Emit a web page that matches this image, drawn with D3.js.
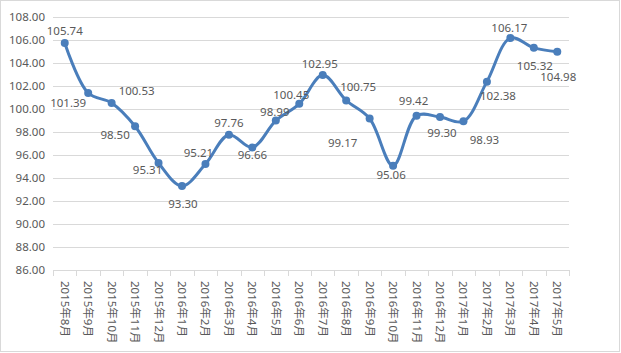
<!DOCTYPE html>
<html>
<head>
<meta charset="utf-8">
<script src="https://cdn.jsdelivr.net/npm/d3@7"></script>
<style>
body { margin: 0; background: #fff; }
text { font-family: "Noto Sans", "Noto Sans CJK SC", sans-serif; fill: #595959; }
</style>
</head>
<body>
<div id="chart"></div>
<script>
const months = ['2015年8月','2015年9月','2015年10月','2015年11月','2015年12月','2016年1月','2016年2月','2016年3月','2016年4月','2016年5月','2016年6月','2016年7月','2016年8月','2016年9月','2016年10月','2016年11月','2016年12月','2017年1月','2017年2月','2017年3月','2017年4月','2017年5月'];
const values = [105.74,101.39,100.53,98.50,95.31,93.30,95.21,97.76,96.66,98.99,100.45,102.95,100.75,99.17,95.06,99.42,99.30,98.93,102.38,106.17,105.32,104.98];
const yTicks = [86,88,90,92,94,96,98,100,102,104,106,108];
// label placement relative to its point (px)
const labelOffsets = [[0,-12],[-20,10],[25,-12],[-20,9],[-11,7],[1,18],[-7,-11],[0,-12],[0,8],[-1,-9],[-8,-9],[-3,-11],[12,-13],[-27,24],[-2,9],[-3,-15],[2,16],[21,19],[11,14],[-1,-10],[1,18],[1,25]];

const W = 621, H = 353;
const margin = {top: 17, right: 52, bottom: 83, left: 53};
const width = W - margin.left - margin.right,
    height = H - margin.top - margin.bottom;

const root = d3.select('#chart').append('svg')
    .attr('width', W)
    .attr('height', H);

root.append('rect')
    .attr('x', 0.5).attr('y', 0.5)
    .attr('width', W - 2).attr('height', H - 2)
    .attr('fill', '#fff')
    .attr('stroke', '#d9d9d9');

const svg = root.append('g')
    .attr('transform', `translate(${margin.left}, ${margin.top})`);

const xScale = d3.scaleBand()
    .domain(months)
    .range([0, width]);

const yScale = d3.scaleLinear()
    .domain([86, 108])
    .range([height, 0]);

// gridlines
svg.append('g')
    .selectAll('line')
    .data(yTicks.slice(1))
    .enter()
    .append('line')
    .attr('x1', 0).attr('x2', width)
    .attr('y1', d => Math.round(yScale(d)) + 0.5)
    .attr('y2', d => Math.round(yScale(d)) + 0.5)
    .attr('stroke', '#d9d9d9');

const yAxis = d3.axisLeft(yScale)
    .tickValues(yTicks)
    .tickFormat(d3.format('.2f'))
    .tickSize(0)
    .tickPadding(8);

const yAxisGroup = svg.append('g')
    .attr('class', 'axis y-axis')
    .call(yAxis);
yAxisGroup.select('.domain').remove();
yAxisGroup.selectAll('text').style('font-size', '11.5px').attr('fill', '#595959');

// x axis baseline and ticks at band boundaries
const xg = svg.append('g').attr('transform', `translate(0, ${height})`);
xg.append('line')
    .attr('x1', 0).attr('x2', width)
    .attr('y1', 0.5).attr('y2', 0.5)
    .attr('stroke', '#d9d9d9');
xg.selectAll('line.tick')
    .data(months.concat(['end']))
    .enter()
    .append('line')
    .attr('class', 'tick')
    .attr('x1', (d, i) => Math.round(i * xScale.step()) + 0.5)
    .attr('x2', (d, i) => Math.round(i * xScale.step()) + 0.5)
    .attr('y1', 0).attr('y2', 6)
    .attr('stroke', '#d9d9d9');
xg.selectAll('text')
    .data(months)
    .enter()
    .append('text')
    .attr('transform', d => `translate(${xScale(d) + xScale.bandwidth() / 2}, 11) rotate(90)`)
    .attr('dy', '0.35em')
    .style('font-size', '11.5px')
    .text(d => d);

const line = d3.line()
    .x((d, i) => xScale(months[i]) + xScale.bandwidth() / 2)
    .y(d => yScale(d))
    .curve(d3.curveCatmullRom.alpha(0.5));

svg.append('path')
    .datum(values)
    .attr('d', line)
    .attr('fill', 'none')
    .attr('stroke', '#4a7ebb')
    .attr('stroke-width', 3)
    .attr('stroke-linejoin', 'round');

svg.selectAll('circle')
    .data(values)
    .enter()
    .append('circle')
    .attr('cx', (d, i) => xScale(months[i]) + xScale.bandwidth() / 2)
    .attr('cy', d => yScale(d))
    .attr('r', 4)
    .attr('fill', '#4a7ebb');

svg.selectAll('text.lbl')
    .data(values)
    .enter()
    .append('text')
    .attr('class', 'lbl')
    .attr('x', (d, i) => xScale(months[i]) + xScale.bandwidth() / 2 + labelOffsets[i][0])
    .attr('y', (d, i) => yScale(d) + labelOffsets[i][1])
    .attr('dy', '0.35em')
    .attr('text-anchor', 'middle')
    .style('font-size', '11.5px')
    .attr('fill', '#404040')
    .text(d => d.toFixed(2));
</script>
</body>
</html>
